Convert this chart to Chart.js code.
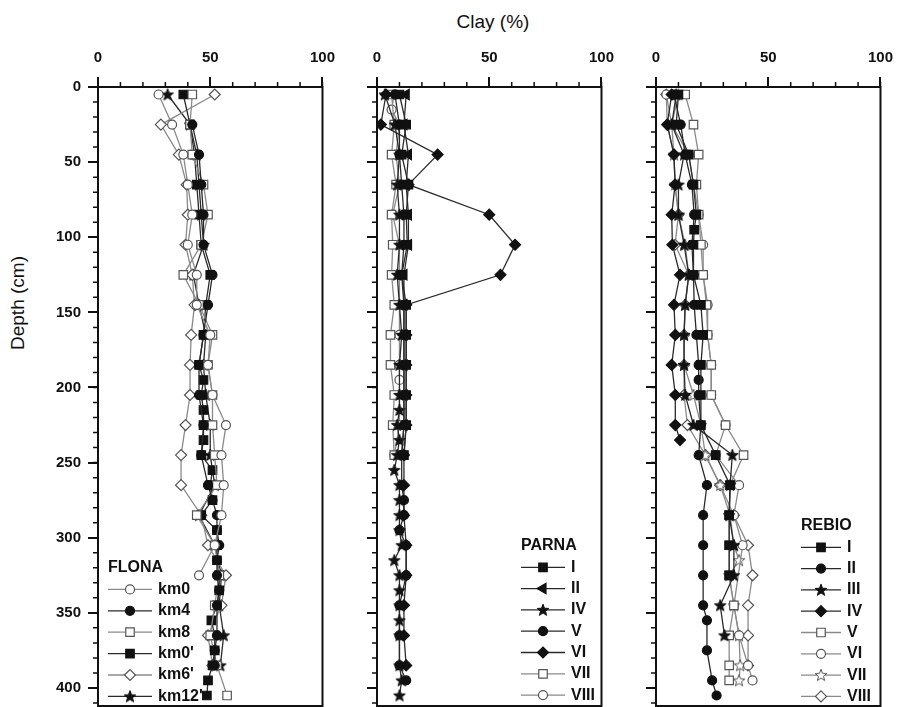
<!DOCTYPE html>
<html>
<head>
<meta charset="utf-8">
<script src="https://cdn.jsdelivr.net/npm/chart.js@4.4.1/dist/chart.umd.min.js"></script>
<style>
  html, body { margin: 0; padding: 0; background: #fff; overflow: hidden; }
  #wrap { position: relative; width: 907px; height: 707px; overflow: hidden; font-family: 'Liberation Sans', Arial, sans-serif; }
  canvas { position: absolute; top: 0; }
  .ttl { position: absolute; font-size: 19px; color: #111; white-space: nowrap; }
  #clay { left: 493px; top: 22px; transform: translate(-50%, -50%); }
  #depth { left: 18px; top: 303px; transform: translate(-50%, -50%) rotate(-90deg); }
</style>
</head>
<body>
<div id="wrap">
  <div class="ttl" id="clay">Clay (%)</div>
  <div class="ttl" id="depth">Depth (cm)</div>
  <canvas id="c1" width="307" height="722" style="left:38px"></canvas>
  <canvas id="c2" width="307" height="722" style="left:317px"></canvas>
  <canvas id="c3" width="307" height="722" style="left:596px"></canvas>
</div>
<script>
const _ = null;

// sampling depths (cm), 10 cm grid; series use null where no sample
const depth = [5,15,25,35,45,55,65,75,85,95, 105,115,125,135,145,155,165,175,185,195,
               205,215,225,235,245,255,265,275,285,295, 305,315,325,335,345,355,365,375,385,395, 405];

const clayTicks = [0, 50, 100];
const depthTicks = [0, 50, 100, 150, 200, 250, 300, 350, 400];

// FLONA
const flonaLabels = ['km0', 'km4', 'km8', "km0'", "km6'", "km12'"];
const km0  = [27,_,33,_,38,_,40,_,42,_, 40,_,44,_,44,_,50,_,49,_, 51,_,57,_,55,_,56,_,55,_, 52,_,45,_,_,_,_,_,_,_, _];
const km4  = [_,_,42,_,45,_,46,_,47,_, 47,_,51,_,49,_,47,_,45,_, 45,_,47,_,46,_,49,51,53,53, 54,53,53,54,53,_,53,52,52,_, _];
const km8  = [42,_,41,_,42,_,47,_,49,_, 46,_,38,_,45,_,51,_,49,_, 51,_,51,_,52,_,53,_,44,_, 52,_,54,_,52,_,50,_,53,_, 57.5];
const km0b = [38,_,41,_,43,_,44,_,45,_, 46,_,50,_,48,_,47,_,45,47, 46,47,47,47,46,51,50,51,46,53, 53,53,54,54,53,50.5,52,52,51,49, 48.5];
const km6b = [52,_,28,_,36,_,39.5,_,40,_, 39,_,42,_,43,_,41.5,_,41,_, 41,_,39,_,37,_,37,_,46,_, 49,_,57,_,55,_,49,_,51,_, _];
const km12b = [31,_,41,_,44,_,45,_,46,_, 47,_,42.5,_,45,_,48,_,47,_, 48,_,50,_,50,_,52,_,45,_, 52,_,55,_,54,_,56,_,54.5,_, _];

// PARNA
const parnaLabels = ['I', 'II', 'IV', 'V', 'VI', 'VII', 'VIII'];
const pI    = [10,_,13,_,11,_,14,_,13,_, 13.5,_,11,_,13,_,13,_,13,_, 13,_,13,_,12,_,_,_,_,_, _,_,_,_,_,_,_,_,_,_, _];
const pII   = [13,_,12,_,14,_,13,_,14,_, 14,_,12,_,12,_,12,_,12,_, 12,_,12,_,11,_,_,_,_,_, _,_,_,_,_,_,_,_,_,_, _];
const pIV   = [3.5,_,8,_,10,_,9,_,10,_, 10,_,9,_,10,_,11,_,10,_, 10,10,9,10,9,7.7,10,10,10,10, 11,7.7,10,10,10,10,10,_,10,11, 10];
const pV    = [8,_,10,_,10,_,11,_,12,_, 12,_,11,_,12,_,12,_,12,_, 12,_,12,_,11,_,11,12,12,10, 13,_,13,_,10,_,10,_,10,13, _];
const pVI   = [4,_,1.7,_,27,_,14,_,50,_, 61.5,_,55,_,13,_,13,_,13,_, 13,_,13,_,12,_,12,_,12,_, 13,_,13,_,12,_,12,_,13,_, _];
const pVII  = [6.5,_,7.7,_,6.5,_,8.5,_,6.5,_, 7,_,6.5,_,7.7,_,6,_,6,_, 7.7,_,7,_,7.7,_,_,_,_,_, _,_,_,_,_,_,_,_,_,_, _];
const pVIII = [7.7,6.5,10,_,8.5,_,10,_,7,_, 10,_,10,_,10,_,10,_,10,10, 10,_,10,_,7.7,_,_,_,_,_, _,_,_,_,_,_,_,_,_,_, _];

// REBIO
const rebioLabels = ['I', 'II', 'III', 'IV', 'V', 'VI', 'VII', 'VIII'];
const rI    = [10,_,9,_,14.6,_,16.7,_,18,17, 16.7,_,16.7,_,20,_,21,_,20,_, 20,_,20,_,26.6,_,33,_,32.6,_, 32.6,_,32.6,_,_,_,_,_,_,_, _];
const rII   = [8,_,11,_,13,_,16,_,17,_, 16,_,16.7,_,17,_,18,_,19,19, 19,_,20,_,19,_,22.7,_,21,_, 21,_,21,_,21,22.7,_,22.7,_,25, 27];
const rIII  = [9,_,7,_,12.5,_,10,_,10,_, 12.5,_,14.6,_,13,_,12.5,_,12.5,_, 13,_,16.7,_,34,_,33,_,32.6,_, 34.7,_,34.7,_,28.6,_,30.5,_,_,_, _];
const rIV   = [7,_,5,_,8,_,8.5,_,7,_, 7.3,_,10.7,_,8,_,8.6,_,7,_, 8.6,_,8.6,10.7,_,_,_,_,_,_, _,_,_,_,_,_,_,_,_,_, _];
const rV    = [13,_,16.7,_,19,_,18,_,19,_, 20,_,21,_,22.5,_,23,_,24.6,_, 24.6,_,31,_,39,_,33,_,32.6,_, 32.6,_,32.6,_,34.7,_,32.6,_,32.6,32.6, _];
const rVI   = [4.6,_,7,_,14.6,_,16.7,_,19,_, 21,_,21,_,23,_,23,_,24.6,_, 24.6,_,31,_,26.6,_,37,_,34.7,_, 38.6,_,_,_,34.7,_,37,_,41,43, _];
const rVII  = [10,_,7,_,8,_,8.5,_,10,_, 13,_,14.6,_,13,_,12.5,_,12.5,_, 16.7,_,20,_,22,_,28.6,_,33,_, 34.7,37,32.6,_,34.7,_,37,_,37.5,37, _];
const rVIII = [4.6,_,5,_,8,_,8.5,_,10,_, 8.5,_,14.6,_,13,_,12.5,_,12.5,_, 12.5,_,14,_,22,_,28.6,_,34.7,_, 41,_,43,_,41,_,41,_,41,_, _];

const FONT = "'Liberation Sans', Arial, sans-serif";
const INK = '#111';
const DARK = '#2a2a2a';
const GRAY = '#8a8a8a';

function makeStar(fill, stroke) {
  const c = document.createElement('canvas');
  c.width = 14; c.height = 14;
  const g = c.getContext('2d');
  g.beginPath();
  for (let k = 0; k < 10; k++) {
    const r = k % 2 ? 2.6 : 6.2;
    const a = -Math.PI / 2 + k * Math.PI / 5;
    const px = 7 + r * Math.cos(a), py = 7.4 + r * Math.sin(a);
    k ? g.lineTo(px, py) : g.moveTo(px, py);
  }
  g.closePath();
  g.fillStyle = fill; g.fill();
  g.lineWidth = 1; g.strokeStyle = stroke; g.stroke();
  return c;
}
const starFilled = makeStar('#111', '#111');
const starOpen = makeStar('#fff', '#555');

// marker kinds
const kinds = {
  circle:   { pointStyle: 'circle', pointRadius: 4.5 },
  square:   { pointStyle: 'rect', pointRadius: 6 },
  diamond:  { pointStyle: 'rectRot', pointRadius: 5.5 },
  triangle: { pointStyle: 'triangle', pointRadius: 6, pointRotation: -90 },
  star:     { pointStyle: starFilled, pointRadius: 6 },
  ostar:    { pointStyle: starOpen, pointRadius: 6 }
};

function series(label, vals, kind, open) {
  const pts = [];
  vals.forEach((v, i) => { if (v !== null) pts.push({ x: v, y: depth[i] }); });
  const k = kinds[kind];
  return Object.assign({
    label: label,
    data: pts,
    borderColor: open ? GRAY : DARK,
    borderWidth: 1.3,
    pointBackgroundColor: open ? '#fff' : INK,
    pointBorderColor: open ? '#555' : INK,
    pointBorderWidth: 1.2,
    pointRotation: 0,
    fill: false,
    tension: 0
  }, k);
}

const frame = {
  id: 'frame',
  afterDraw(chart, args, opts) {
    const { ctx, chartArea: a, scales: { x, y } } = chart;
    ctx.save();
    ctx.strokeStyle = INK;
    ctx.lineWidth = 2;
    ctx.strokeRect(a.left, a.top, a.right - a.left, a.bottom - a.top);
    // minor ticks
    ctx.lineWidth = 1.5;
    ctx.beginPath();
    for (let v = 0; v <= 100; v += 10) {
      const px = x.getPixelForValue(v);
      ctx.moveTo(px, a.top); ctx.lineTo(px, a.top - 5);
    }
    for (let v = 0; v <= 410; v += 10) {
      const py = y.getPixelForValue(v);
      ctx.moveTo(a.left, py); ctx.lineTo(a.left - 5, py);
    }
    ctx.stroke();

    // legend inside plot
    const lg = opts.legend;
    ctx.font = 'bold 16px ' + FONT;
    ctx.textBaseline = 'middle';
    ctx.textAlign = 'left';
    ctx.fillStyle = INK;
    const x0 = a.left + lg.dx;
    ctx.fillText(lg.title, x0, lg.y);
    chart.data.datasets.forEach((ds, i) => {
      const yy = lg.y + lg.row * (i + 1);
      ctx.strokeStyle = ds.borderColor;
      ctx.lineWidth = ds.borderWidth;
      ctx.beginPath(); ctx.moveTo(x0, yy); ctx.lineTo(x0 + lg.len, yy); ctx.stroke();
      ctx.fillStyle = ds.pointBackgroundColor;
      ctx.strokeStyle = ds.pointBorderColor;
      ctx.lineWidth = ds.pointBorderWidth;
      Chart.helpers.drawPoint(ctx, {
        pointStyle: ds.pointStyle, radius: ds.pointRadius,
        rotation: ds.pointRotation || 0, borderWidth: ds.pointBorderWidth
      }, x0 + lg.len / 2, yy);
      ctx.fillStyle = INK;
      ctx.fillText(ds.label, x0 + lg.len + 6, yy);
    });
    ctx.restore();
  }
};

function makePanel(id, datasets, legend, showDepthLabels) {
  new Chart(document.getElementById(id), {
    type: 'line',
    data: { datasets: datasets },
    options: {
      responsive: false,
      animation: false,
      layout: { padding: { left: 0, right: 14, top: 0, bottom: 11 } },
      plugins: { legend: { display: false }, tooltip: { enabled: false }, frame: { legend: legend } },
      scales: {
        x: {
          type: 'linear', position: 'top', min: 0, max: 100,
          afterFit: s => { s.height = 87; },
          afterBuildTicks: s => { s.ticks = clayTicks.map(v => ({ value: v })); },
          ticks: { font: { family: FONT, size: 15, weight: 'bold' }, color: INK, padding: 10, maxRotation: 0 },
          grid: { drawOnChartArea: false, tickLength: 10, color: INK, lineWidth: 2 },
          border: { color: INK, width: 2 }
        },
        y: {
          type: 'linear', reverse: true, min: 0, max: 412,
          afterFit: s => { s.width = 60; },
          afterBuildTicks: s => { s.ticks = depthTicks.map(v => ({ value: v })); },
          ticks: {
            font: { family: FONT, size: 15, weight: 'bold' }, color: INK, padding: 7,
            callback: v => showDepthLabels ? String(v) : ''
          },
          grid: { drawOnChartArea: false, tickLength: 10, color: INK, lineWidth: 2 },
          border: { color: INK, width: 2 }
        }
      }
    },
    plugins: [frame]
  });
}

makePanel('c1', [
  series(flonaLabels[0], km0, 'circle', true),
  series(flonaLabels[1], km4, 'circle', false),
  series(flonaLabels[2], km8, 'square', true),
  series(flonaLabels[3], km0b, 'square', false),
  series(flonaLabels[4], km6b, 'diamond', true),
  series(flonaLabels[5], km12b, 'star', false)
], { title: 'FLONA', dx: 10, y: 568, row: 21.4, len: 44 }, true);

makePanel('c2', [
  series(parnaLabels[0], pI, 'square', false),
  series(parnaLabels[1], pII, 'triangle', false),
  series(parnaLabels[2], pIV, 'star', false),
  series(parnaLabels[3], pV, 'circle', false),
  series(parnaLabels[4], pVI, 'diamond', false),
  series(parnaLabels[5], pVII, 'square', true),
  series(parnaLabels[6], pVIII, 'circle', true)
], { title: 'PARNA', dx: 144, y: 546, row: 21.3, len: 44 }, false);

makePanel('c3', [
  series(rebioLabels[0], rI, 'square', false),
  series(rebioLabels[1], rII, 'circle', false),
  series(rebioLabels[2], rIII, 'star', false),
  series(rebioLabels[3], rIV, 'diamond', false),
  series(rebioLabels[4], rV, 'square', true),
  series(rebioLabels[5], rVI, 'circle', true),
  series(rebioLabels[6], rVII, 'ostar', true),
  series(rebioLabels[7], rVIII, 'diamond', true)
], { title: 'REBIO', dx: 145, y: 526, row: 21.3, len: 40 }, false);
</script>
</body>
</html>
